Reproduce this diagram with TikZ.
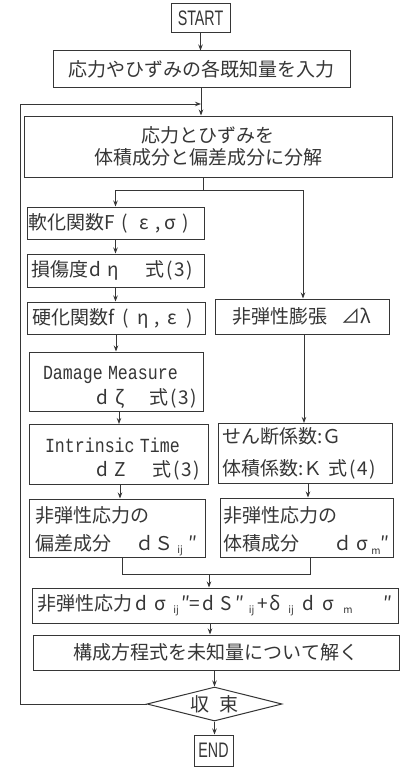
\documentclass[tikz,border=0pt]{standalone}
\usepackage{fontspec}
\setmainfont{Noto Sans CJK JP}
\newfontfamily\monof{Liberation Mono}
\newfontfamily\latf{Liberation Sans}
\usetikzlibrary{shapes.geometric,arrows.meta}
\definecolor{ink}{HTML}{363636}
\newcommand{\sbs}[1]{\raisebox{-0.3ex}{\fontsize{10}{10}\selectfont #1}}
\newcommand{\mono}[1]{{\monof\fontsize{20}{20}\selectfont\scalebox{0.83}[1]{#1}}}
\newcommand{\slt}[2]{\makebox[#1pt]{#2}}
\newcommand{\eqn}[1]{式\hspace{2pt}(\hspace{1.5pt}#1\hspace{1.5pt})}
\tikzset{
  box/.style={draw=ink, line width=1pt, inner sep=0pt, text=ink,
    font=\fontsize{19}{28}\selectfont},
  lbox/.style={box, align=left},
  arr/.style={draw=ink, line width=1pt, -{Stealth[length=6pt,width=4.5pt]}},
  ln/.style={draw=ink, line width=1pt},
  termf/.style={font=\latf\fontsize{21}{21}\selectfont}
}
\begin{document}
\begin{tikzpicture}[x=1pt,y=-1pt]
\useasboundingbox[fill=white] (0,0) rectangle (400,768);
% nodes
\node[box, termf, minimum width=59pt, minimum height=29pt] (start) at (200.5,18.5) {\scalebox{0.68}[1]{START}};
\node[box, minimum width=297pt, minimum height=36pt] (input) at (201.5,69) {応力やひずみの各既知量を入力};
\node[box, minimum width=368pt, minimum height=61pt, align=center, font=\fontsize{19}{22}\selectfont] (decomp) at (208,146.5) {応力とひずみを\\体積成分と偏差成分に分解};
\node[lbox, inner xsep=1pt, text width=175pt, minimum height=32pt] (soft) at (115.5,223) {軟化関数\slt{12}{F}\slt{18}{(}\slt{20}{ε}\slt{8}{,}\slt{16}{σ}\slt{16}{)}};
\node[lbox, inner xsep=4pt, text width=169pt, minimum height=33pt] (dmg) at (115.5,270.5) {損傷度\slt{14}{d}\slt{22}{η}\hspace{22pt}\eqn{3}};
\node[lbox, inner xsep=5pt, text width=168pt, minimum height=32pt] (hard) at (116,318) {硬化関数\slt{8}{f}\slt{20}{(}\slt{14}{η}\slt{14}{,}\slt{16}{ε}\slt{20}{)}};
\node[box, minimum width=174pt, minimum height=35pt] (dil) at (302,316.5) {非弾性膨張\hspace{14pt}⊿λ};
\node[lbox, inner xsep=0pt, text width=174pt, minimum height=59pt, font=\fontsize{19}{25}\selectfont] (dm) at (116,381.5) {\rule{0pt}{24pt}\hspace*{14pt}\mono{Damage Measure}\\\hspace*{66pt}\slt{14}{d}\slt{22}{ζ}\hspace{19pt}\eqn{3}};
\node[lbox, inner xsep=0pt, text width=179pt, minimum height=60pt, font=\fontsize{19}{24}\selectfont] (it) at (118.5,454.5) {\rule{0pt}{24pt}\hspace*{16pt}\mono{Intrinsic Time}\\\hspace*{66pt}\slt{14}{d}\slt{22}{Z}\hspace{22pt}\eqn{3}};
\node[lbox, inner xsep=4pt, text width=166pt, minimum height=60pt, font=\fontsize{19}{32}\selectfont] (mod) at (305,453.5) {せん断係数:Ｇ\\体積係数:Ｋ \eqn{4}};
\node[lbox, inner xsep=6pt, text width=164pt, minimum height=58pt] (dev) at (117,528) {\rule{0pt}{22pt}非弾性応力の\\偏差成分\hspace{24pt}\slt{20}{ｄ}\slt{18}{Ｓ}\slt{14}{\sbs{ij}}\slt{12}{″}};
\node[lbox, inner xsep=3pt, text width=167pt, minimum height=59pt] (vol) at (306.5,527.5) {\rule{0pt}{22pt}非弾性応力の\\体積成分\hspace{34pt}\slt{20}{ｄ}\slt{18}{σ}\slt{10}{\sbs{m}}\slt{8}{″}};
\node[box, minimum width=366pt, minimum height=35pt] (form) at (215,605.5) {非弾性応力\slt{19}{d}\slt{18}{σ}\slt{14}{\sbs{ij}}\slt{7}{″}\slt{10}{=}\slt{17}{d}\slt{18}{S}\slt{10}{″}\slt{13}{\sbs{ij}}\slt{9}{+}\slt{16}{δ}\slt{16}{\sbs{ij}}\slt{19}{d}\slt{20}{σ}\slt{20}{\sbs{m}}\makebox[35pt][r]{″}};
\node[box, minimum width=366pt, minimum height=35pt] (solve) at (216,652.5) {構成方程式を未知量について解く};
\node[box, diamond, aspect=4, minimum width=135pt, minimum height=34pt] (conv) at (214.5,704) {収\hspace{10pt}束};
\node[box, termf, minimum width=39pt, minimum height=31pt] (end) at (213.5,750.5) {\scalebox{0.68}[1]{END}};
% helper coordinates
\coordinate (split) at (203,190);
\coordinate (splitL) at (115.5,190);
\coordinate (splitR) at (303,190);
\coordinate (join) at (209,574);
\coordinate (joinL) at (122,574);
\coordinate (joinR) at (310,574);
\coordinate (loopA) at (20,704);
\coordinate (loopB) at (20,104);
\coordinate (loopC) at (201,104);
% connectors
\draw[arr] (start.south) -- (start.south |- input.north);
\draw[arr] (input.south -| loopC) -- (loopC |- decomp.north);
\draw[ln] (decomp.south -| split) -- (split);
\draw[ln] (splitL) -- (splitR);
\draw[arr] (splitL) -- (splitL |- soft.north);
\draw[arr] (splitR) -- (splitR |- dil.north);
\draw[arr] (soft.south) -- (dmg.north);
\draw[arr] (dmg.south) -- (dmg.south |- hard.north);
\draw[arr] (hard.south) -- (hard.south |- dm.north);
\draw[arr] (dm.south -| 119,0) -- (119,0 |- it.north);
\draw[arr] (it.south -| 120,0) -- (120,0 |- dev.north);
\draw[arr] (dil.south -| 304,0) -- (304,0 |- mod.north);
\draw[arr] (mod.south -| 308,0) -- (308,0 |- vol.north);
\draw[ln] (dev.south -| joinL) -- (joinL) -- (joinR) -- (vol.south -| joinR);
\draw[arr] (join) -- (join |- form.north);
\draw[arr] (form.south -| 210,0) -- (210,0 |- solve.north);
\draw[arr] (solve.south -| conv.north) -- (conv.north);
\draw[arr] (conv.south) -- (conv.south |- end.north);
\draw[arr] (conv.west) -- (loopA) -- (loopB) -- (loopC);
\end{tikzpicture}
\end{document}
